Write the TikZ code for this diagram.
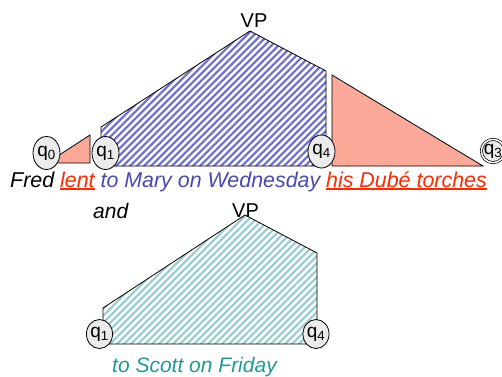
\documentclass[tikz,border=0pt]{standalone}
\usepackage{fontspec}
\setmainfont{Liberation Sans}
\newcommand\myul[1]{\leavevmode\vtop{\hbox{#1}\kern1.2pt\hrule height1.3pt}}
\usetikzlibrary{shapes.geometric}
\definecolor{salmon}{HTML}{FCA898}
\definecolor{hatchblue}{HTML}{7474D8}
\definecolor{hatchteal}{HTML}{9CCFCF}
\definecolor{txtblue}{HTML}{4848B0}
\definecolor{txtred}{HTML}{FF2A00}
\definecolor{txtteal}{HTML}{1F9A9A}
\definecolor{qfill}{HTML}{EBEBEB}
\begin{document}
\begin{tikzpicture}[x=1pt,y=-1pt,
  qstate/.style={ellipse, draw=black, line width=0.8pt, fill=qfill,
    minimum width=27pt, minimum height=33pt, inner sep=0pt,
    font=\fontsize{19}{19}\selectfont},
  qsmall/.style={qstate, minimum width=26pt, minimum height=29pt},
  finalstate/.style={circle, draw=black, line width=0.7pt, double=white,
    double distance=1.5pt, fill=qfill, minimum size=23pt, inner sep=0pt,
    font=\fontsize{19}{19}\selectfont},
  outline/.style={draw=black, line width=0.8pt},
  bluehatch/.style={draw=hatchblue, line width=2.4pt},
  tealhatch/.style={draw=hatchteal, line width=2.4pt},
  txt/.style={inner sep=0pt, anchor=base west, font=\itshape\fontsize{21}{21}\selectfont},
  vplabel/.style={inner sep=0pt, anchor=base, font=\fontsize{20}{20}\selectfont}
]
\useasboundingbox (0,0) rectangle (502,376);

% ---- top VP (blue hatched)
\begin{scope}
  \clip (101,166) -- (101,127) -- (250,31) -- (326,71) -- (326,166) -- cycle;
  \foreach \k in {0,...,80} \draw[bluehatch] ({\k*7-100},200) -- ++(200,-200);
\end{scope}
\draw[outline] (101,166) -- (101,127) -- (250,31) -- (326,71) -- (326,166) -- cycle;

% ---- salmon triangles
\fill[salmon] (47,163) -- (90,135) -- (90,163) -- cycle;
\draw[outline] (47,163) -- (90,135) -- (90,163) -- cycle;
\fill[salmon] (332,75) -- (483,166) -- (332,166) -- cycle;
\draw[outline] (332,75) -- (483,166) -- (332,166) -- cycle;

% ---- top states
\node[qstate] (q0) at (46.5,153) {q\textsubscript{0}};
\node[qstate] (q1) at (105.5,153) {q\textsubscript{1}};
\node[qstate] (q4) at (321.5,151.5) {q\textsubscript{4}};
\node[finalstate] (q3) at (493,151) {q\textsubscript{3}};

\node[vplabel] (vp1) at (254,27) {VP};

\node[txt, font=\itshape\fontsize{21.4}{21.4}\selectfont] (sent) at (10,187) {Fred \textcolor{txtred}{\myul{lent}} \textcolor{txtblue}{to Mary on Wednesday} \textcolor{txtred}{\myul{his Dubé torches}}};

\node[txt] (and) at (93,218) {and};

% ---- bottom VP (teal hatched)
\begin{scope}
  \clip (103,344) -- (103,308) -- (245,215) -- (317,253) -- (317,344) -- cycle;
  \foreach \k in {0,...,60} \draw[tealhatch] ({\k*7-100},400) -- ++(400,-400);
\end{scope}
\draw[outline] (103,344) -- (103,308) -- (245,215) -- (317,253) -- (317,344) -- cycle;

\node[vplabel] (vp2) at (245.5,217) {VP};
\node[qsmall] (b1) at (99.5,334) {q\textsubscript{1}};
\node[qsmall] (b4) at (316,334) {q\textsubscript{4}};

\node[txt, text=txtteal] (scott) at (112,372) {to Scott on Friday};
\end{tikzpicture}
\end{document}
